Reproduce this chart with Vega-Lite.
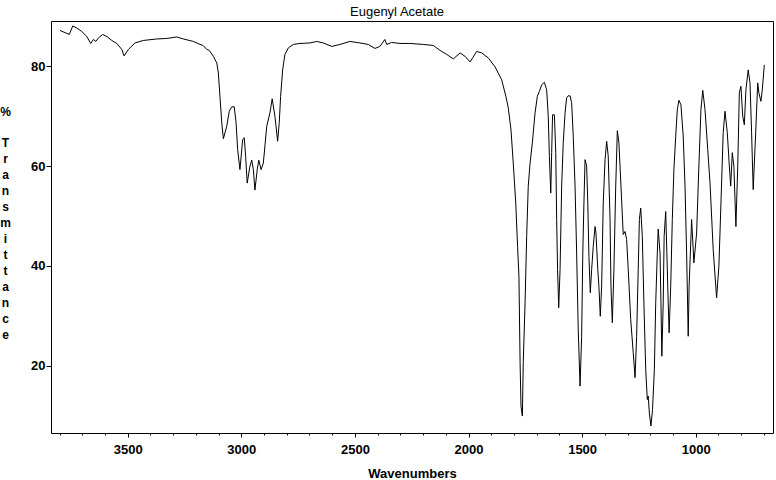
{
  "$schema": "https://vega.github.io/schema/vega-lite/v6.json",
  "autosize": {"type": "none"},
  "width": 722,
  "height": 412,
  "padding": {"left": 51, "top": 21, "right": 3, "bottom": 47},
  "background": "white",
  "title": {"text": "Eugenyl Acetate", "font": "Liberation Sans", "fontSize": 13, "fontWeight": "normal", "color": "black", "anchor": "middle", "dx": -15, "dy": 12, "offset": 4, "baseline": "alphabetic"},
  "config": {
    "view": {"stroke": "black", "strokeWidth": 1},
    "axis": {"grid": false, "domain": false, "tickColor": "black", "tickWidth": 1, "labelFont": "Liberation Sans", "labelFontSize": 13, "labelFontWeight": "bold", "labelColor": "black", "titleFont": "Liberation Sans", "titleFontSize": 13, "titleFontWeight": "bold", "titleColor": "black"}
  },
  "data": {"values": [
    {"w":3798,"t":87.2},{"w":3757,"t":86.4},{"w":3742,"t":88.1},{"w":3724,"t":87.7},{"w":3702,"t":87.0},{"w":3680,"t":86.0},{"w":3663,"t":84.6},{"w":3651,"t":85.4},{"w":3640,"t":85.0},{"w":3629,"t":85.7},{"w":3610,"t":86.4},{"w":3592,"t":86.0},{"w":3570,"t":85.2},{"w":3548,"t":84.6},{"w":3526,"t":83.4},{"w":3516,"t":82.1},{"w":3497,"t":83.4},{"w":3468,"t":84.7},{"w":3431,"t":85.2},{"w":3372,"t":85.5},{"w":3328,"t":85.6},{"w":3284,"t":85.9},{"w":3255,"t":85.5},{"w":3211,"t":85.0},{"w":3182,"t":84.4},{"w":3168,"t":84.2},{"w":3152,"t":83.4},{"w":3141,"t":83.2},{"w":3123,"t":82.0},{"w":3108,"t":80.7},{"w":3101,"t":78.7},{"w":3094,"t":74.0},{"w":3086,"t":68.7},{"w":3079,"t":65.5},{"w":3064,"t":68.0},{"w":3053,"t":71.0},{"w":3042,"t":71.9},{"w":3031,"t":71.9},{"w":3023,"t":68.7},{"w":3016,"t":63.3},{"w":3006,"t":59.3},{"w":2994,"t":65.3},{"w":2987,"t":65.7},{"w":2981,"t":62.0},{"w":2974,"t":56.6},{"w":2962,"t":60.0},{"w":2954,"t":61.2},{"w":2947,"t":59.3},{"w":2940,"t":55.2},{"w":2930,"t":59.3},{"w":2923,"t":61.2},{"w":2913,"t":59.3},{"w":2903,"t":60.6},{"w":2888,"t":68.0},{"w":2874,"t":70.7},{"w":2864,"t":73.5},{"w":2852,"t":70.0},{"w":2840,"t":65.0},{"w":2833,"t":68.7},{"w":2827,"t":74.0},{"w":2818,"t":79.3},{"w":2808,"t":82.4},{"w":2793,"t":83.7},{"w":2771,"t":84.4},{"w":2742,"t":84.6},{"w":2698,"t":84.7},{"w":2668,"t":85.0},{"w":2639,"t":84.7},{"w":2602,"t":84.0},{"w":2566,"t":84.4},{"w":2522,"t":85.0},{"w":2478,"t":84.7},{"w":2441,"t":84.4},{"w":2412,"t":83.6},{"w":2390,"t":84.0},{"w":2368,"t":85.4},{"w":2360,"t":84.4},{"w":2338,"t":84.8},{"w":2302,"t":84.6},{"w":2258,"t":84.6},{"w":2199,"t":84.4},{"w":2155,"t":84.2},{"w":2125,"t":83.2},{"w":2096,"t":82.4},{"w":2067,"t":81.5},{"w":2037,"t":82.7},{"w":2015,"t":82.0},{"w":1993,"t":80.9},{"w":1964,"t":83.0},{"w":1942,"t":82.7},{"w":1913,"t":81.7},{"w":1883,"t":79.9},{"w":1854,"t":77.3},{"w":1835,"t":73.9},{"w":1825,"t":71.7},{"w":1813,"t":67.3},{"w":1803,"t":60.6},{"w":1792,"t":52.6},{"w":1784,"t":43.9},{"w":1778,"t":37.9},{"w":1773,"t":20.6},{"w":1769,"t":11.9},{"w":1763,"t":9.9},{"w":1759,"t":20.6},{"w":1751,"t":32.6},{"w":1744,"t":45.9},{"w":1737,"t":56.0},{"w":1729,"t":60.6},{"w":1719,"t":64.7},{"w":1707,"t":70.7},{"w":1697,"t":74.0},{"w":1688,"t":75.0},{"w":1678,"t":76.3},{"w":1666,"t":76.8},{"w":1656,"t":75.3},{"w":1649,"t":70.0},{"w":1644,"t":62.0},{"w":1638,"t":54.6},{"w":1634,"t":62.7},{"w":1630,"t":70.3},{"w":1622,"t":70.3},{"w":1616,"t":62.7},{"w":1612,"t":49.3},{"w":1608,"t":39.3},{"w":1603,"t":31.6},{"w":1597,"t":39.3},{"w":1590,"t":56.0},{"w":1583,"t":64.7},{"w":1575,"t":70.7},{"w":1568,"t":73.7},{"w":1561,"t":74.1},{"w":1553,"t":74.1},{"w":1546,"t":72.7},{"w":1539,"t":66.0},{"w":1531,"t":56.0},{"w":1524,"t":42.6},{"w":1517,"t":27.2},{"w":1509,"t":15.9},{"w":1502,"t":25.9},{"w":1497,"t":42.6},{"w":1492,"t":52.6},{"w":1487,"t":61.3},{"w":1480,"t":60.0},{"w":1475,"t":52.6},{"w":1470,"t":41.9},{"w":1464,"t":34.6},{"w":1458,"t":39.3},{"w":1451,"t":43.9},{"w":1443,"t":47.9},{"w":1439,"t":46.6},{"w":1431,"t":39.3},{"w":1426,"t":35.9},{"w":1420,"t":29.9},{"w":1414,"t":35.9},{"w":1407,"t":52.6},{"w":1399,"t":61.3},{"w":1392,"t":65.0},{"w":1385,"t":62.0},{"w":1377,"t":49.3},{"w":1373,"t":35.9},{"w":1367,"t":28.6},{"w":1360,"t":39.3},{"w":1352,"t":56.0},{"w":1345,"t":67.1},{"w":1338,"t":64.7},{"w":1329,"t":56.0},{"w":1319,"t":46.3},{"w":1311,"t":46.9},{"w":1304,"t":45.3},{"w":1297,"t":39.3},{"w":1286,"t":29.2},{"w":1275,"t":22.6},{"w":1267,"t":17.6},{"w":1260,"t":25.9},{"w":1253,"t":39.3},{"w":1248,"t":49.3},{"w":1242,"t":51.6},{"w":1235,"t":45.9},{"w":1228,"t":32.6},{"w":1220,"t":19.2},{"w":1213,"t":13.2},{"w":1209,"t":13.9},{"w":1204,"t":10.5},{"w":1197,"t":7.9},{"w":1190,"t":11.2},{"w":1182,"t":19.2},{"w":1176,"t":32.6},{"w":1169,"t":42.6},{"w":1165,"t":47.4},{"w":1157,"t":42.6},{"w":1153,"t":32.6},{"w":1149,"t":21.9},{"w":1143,"t":32.6},{"w":1139,"t":45.9},{"w":1132,"t":50.9},{"w":1127,"t":42.6},{"w":1121,"t":32.6},{"w":1117,"t":26.6},{"w":1110,"t":35.9},{"w":1103,"t":49.3},{"w":1096,"t":59.3},{"w":1088,"t":66.0},{"w":1081,"t":71.3},{"w":1074,"t":73.2},{"w":1065,"t":72.3},{"w":1055,"t":66.0},{"w":1047,"t":56.0},{"w":1040,"t":42.6},{"w":1033,"t":25.9},{"w":1029,"t":35.9},{"w":1018,"t":49.3},{"w":1008,"t":40.6},{"w":996,"t":46.6},{"w":986,"t":60.0},{"w":977,"t":71.3},{"w":969,"t":75.2},{"w":959,"t":71.3},{"w":947,"t":63.3},{"w":937,"t":56.6},{"w":923,"t":43.3},{"w":908,"t":33.6},{"w":898,"t":39.9},{"w":886,"t":56.6},{"w":879,"t":66.7},{"w":871,"t":71.0},{"w":861,"t":66.7},{"w":852,"t":60.0},{"w":846,"t":56.0},{"w":839,"t":62.7},{"w":832,"t":60.0},{"w":823,"t":47.9},{"w":815,"t":60.0},{"w":808,"t":74.7},{"w":801,"t":76.0},{"w":793,"t":70.0},{"w":786,"t":68.3},{"w":779,"t":75.3},{"w":769,"t":79.3},{"w":761,"t":76.7},{"w":754,"t":66.7},{"w":747,"t":55.3},{"w":736,"t":66.7},{"w":727,"t":76.7},{"w":722,"t":74.7},{"w":713,"t":73.0},{"w":707,"t":75.3},{"w":698,"t":80.3}
  ]},
  "layer": [
    {
      "mark": {"type": "line", "color": "black", "strokeWidth": 1, "clip": true},
      "encoding": {
        "x": {"field": "w", "type": "quantitative",
          "scale": {"domain": [659.8, 3837.6], "reverse": true, "nice": false, "zero": false},
          "axis": {"values": [3500, 3000, 2500, 2000, 1500, 1000], "format": "d", "tickSize": 4, "labelPadding": 6, "orient": "bottom", "title": "Wavenumbers", "titleBaseline": "alphabetic", "titleY": 44, "titleAnchor": "middle"}},
        "y": {"field": "t", "type": "quantitative",
          "scale": {"domain": [6.5, 89.1], "nice": false, "zero": false},
          "axis": {"values": [20, 40, 60, 80], "format": "d", "tickSize": 5, "labelPadding": 1, "orient": "left",
            "title": ["T", "r", "a", "n", "s", "m", "i", "t", "t", "a", "n", "c", "e"],
            "titleAngle": 0, "titleAlign": "center", "titleBaseline": "alphabetic", "titleLineHeight": 16, "titleFontSize": 12, "titleX": -46, "titleY": 125}}
      }
    },
    {
      "mark": {"type": "point", "opacity": 0},
      "encoding": {
        "x": {"field": "w", "type": "quantitative",
          "axis": {"values": [3800,3700,3600,3500,3400,3300,3200,3100,3000,2900,2800,2700,2600,2500,2400,2300,2200,2100,2000,1900,1800,1700,1600,1500,1400,1300,1200,1100,1000,900,800,700], "labels": false, "tickSize": 2, "title": null, "orient": "bottom", "domain": false}},
        "y": {"field": "t", "type": "quantitative",
          "axis": {"orient": "left", "labels": false, "ticks": false, "domain": false, "title": "%", "titleAngle": 0, "titleAlign": "center", "titleBaseline": "alphabetic", "titleFontSize": 12, "titleX": -46, "titleY": 94}}
      }
    }
  ],
  "resolve": {"axis": {"x": "independent", "y": "independent"}}
}
